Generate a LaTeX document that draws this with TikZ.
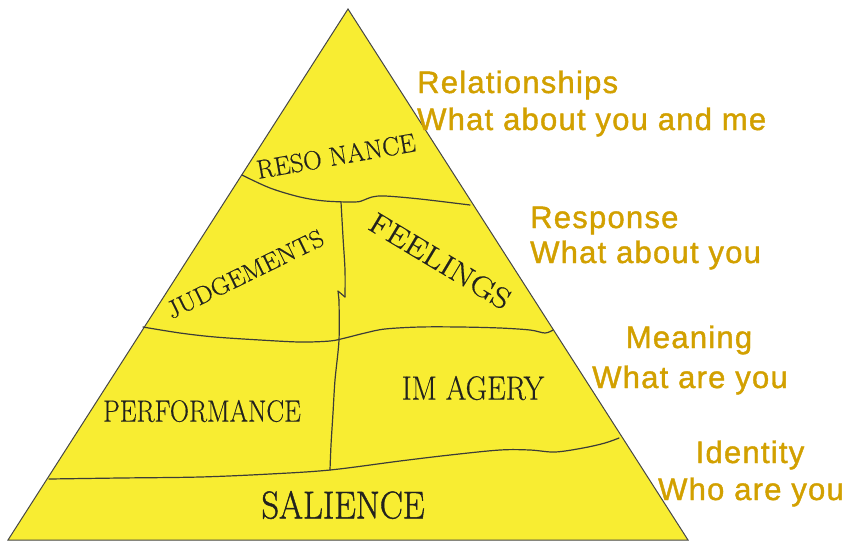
\documentclass[tikz,border=0pt]{standalone}
\usepackage{fontspec}
\usepackage{graphicx}
\newfontfamily\labfont[LetterSpace=4,FakeBold=1.3]{Liberation Sans}
\newfontfamily\capfont[FakeBold=0.35]{Latin Modern Roman}
\newfontfamily\capfontheavy[FakeBold=1.1]{Latin Modern Roman}
\definecolor{pyrfill}{RGB}{248,237,50}
\definecolor{pyredge}{RGB}{70,70,70}
\definecolor{divline}{RGB}{60,60,55}
\definecolor{captext}{RGB}{34,34,30}
\definecolor{goldtext}{RGB}{210,160,0}
\begin{document}
\begin{tikzpicture}[x=1pt,y=-1pt,
  divider/.style={draw=divline, line width=1.2pt, line join=round, line cap=round},
  captionbox/.style={inner sep=0pt, text=captext},
  goldlabel/.style={inner sep=0pt, text=goldtext, font=\labfont\fontsize{31}{37}\selectfont},
]
\useasboundingbox (0,0) rectangle (849,542);

% pyramid body
\draw[fill=pyrfill, draw=pyredge, line width=1pt, line join=miter]
  (348,9) -- (688,540) -- (8,540) -- cycle;

% band separators
\draw[divider] plot[smooth, tension=0.55] coordinates {
  (242,175) (270,188) (300,197) (325,201) (355,202) (364,200) (372,197)
  (385,196) (420,199) (470,205)};
\draw[divider] plot[smooth, tension=0.55] coordinates {
  (143,327) (180,333) (215,337) (260,340) (300,342) (330,341) (345,338)
  (365,333) (385,329) (420,327) (460,327) (500,328) (530,330) (545,333) (553,330)};
\draw[divider] plot[smooth, tension=0.55] coordinates {
  (49,479) (120,478) (200,477) (270,474) (330,470) (400,461) (450,455)
  (500,450) (530,450) (555,452) (583,448) (605,443) (619,438)};

% vertical split of the two middle bands
\draw[divider] plot[smooth, tension=0.5] coordinates {
  (341,202) (343,237) (345,270) (345,297)};
\draw[divider] (345,297) -- (338,291) -- (339,300);
\draw[divider] plot[smooth, tension=0.5] coordinates {
  (339,300) (339,340) (335,380) (333,413) (331,445) (330,470)};

% band names
\node[captionbox, rotate=10] (resonance) at (336,156)
  {\capfont\fontsize{26.4}{30}\selectfont\scalebox{0.98}[1]{RESO NANCE}};
\node[captionbox, rotate=26] (judgements) at (245,274)
  {\capfont\fontsize{24.9}{29}\selectfont\scalebox{1.05}[1]{JUDGEMENTS}};
\node[captionbox, rotate=-31] (feelings) at (440,261)
  {\capfont\fontsize{29.3}{34}\selectfont\scalebox{1.16}[1]{FEELINGS}};
\node[captionbox] (performance) at (202,411)
  {\capfont\fontsize{30.7}{35}\selectfont\scalebox{0.865}[1]{PERFORMANCE}};
\node[captionbox] (imagery) at (473,388)
  {\capfont\fontsize{33.7}{38}\selectfont\scalebox{0.88}[1]{IM AGERY}};
\node[captionbox] (salience) at (343,505)
  {\capfontheavy\fontsize{38.8}{44}\selectfont\scalebox{0.89}[1]{SALIENCE}};

% level captions on the right
\node[goldlabel, anchor=base west] (rel1) at (417,93) {Relationships};
\node[goldlabel, anchor=base west] (rel2) at (417,130) {What about you and me};
\node[goldlabel, anchor=base west] (resp1) at (530,228) {Response};
\node[goldlabel, anchor=base west] (resp2) at (530,263) {What about you};
\node[goldlabel, anchor=base] (mean1) at (689,348) {Meaning};
\node[goldlabel, anchor=base] (mean2) at (690,388) {What are you};
\node[goldlabel, anchor=base] (ident1) at (750,463) {Identity};
\node[goldlabel, anchor=base] (ident2) at (751,500) {Who are you};
\end{tikzpicture}
\end{document}
